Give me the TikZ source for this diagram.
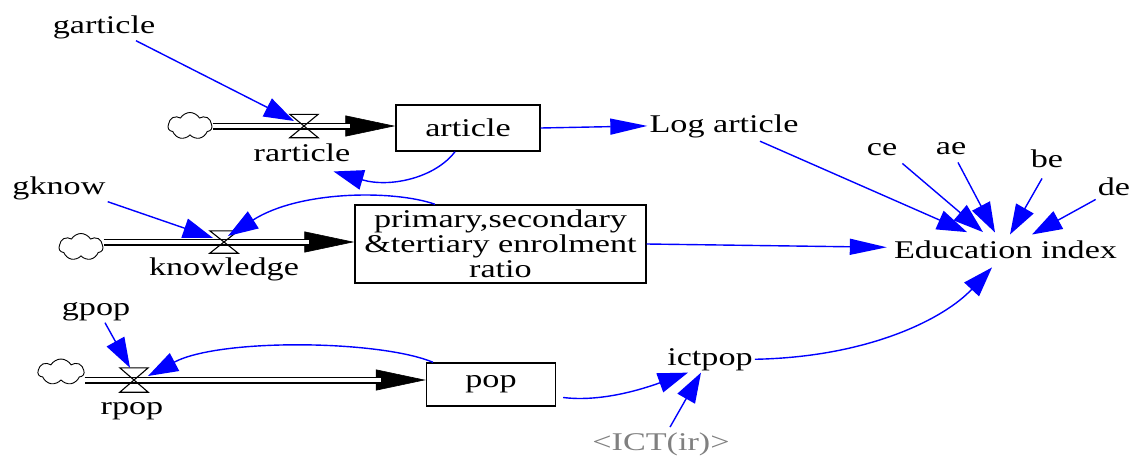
\documentclass[tikz,border=0pt]{standalone}
\usepackage{fontspec}
\setmainfont{Liberation Serif}[FakeStretch=1.34]
\usetikzlibrary{arrows.meta,shapes.symbols}
\begin{document}
\begin{tikzpicture}[x=1pt,y=-1pt,
  lbl/.style={font=\fontsize{25.5}{25}\selectfont, inner sep=2pt, anchor=base},
  stock/.style={draw, line width=1.4pt, inner sep=0pt, align=center,
    font=\fontsize{25.5}{25}\selectfont},
  valve/.style={minimum width=28pt, minimum height=23pt, inner sep=0pt},
  src/.style={cloud, cloud puffs=7, cloud puff arc=120, cloud ignores aspect,
    draw, line width=0.9pt, minimum width=44pt, minimum height=27pt, inner sep=0pt},
  pipe/.style={draw, double, double distance=4.4pt, line width=1.3pt},
  flowtip/.style={draw, line width=0.6pt, -{Triangle[length=50pt,width=21pt]}},
  link/.style={draw=blue, line width=1.4pt, -{Triangle[length=30pt,width=20pt]}},
  longlink/.style={draw=blue, line width=1.4pt, -{Triangle[length=37pt,width=16pt]}},
  valveshape/.style={line width=1.1pt},
]
\useasboundingbox (0,0) rectangle (1134,455);

% ---- stocks ----
\node[stock, minimum width=144pt, minimum height=46pt] (article) at (468,128) {article};
\node[stock, minimum width=291pt, minimum height=78pt] (primary) at (500.5,244)
  {primary,secondary\\\&tertiary enrolment\\ratio};
\node[stock, minimum width=129pt, minimum height=43pt] (pop) at (491,384.5) {pop};

% ---- sources ----
\node[src] (src1) at (190,126) {};
\node[src] (src2) at (81,247) {};
\node[src, minimum width=46pt, minimum height=26pt] (src3) at (61,372) {};

% ---- valves ----
\node[valve] (v1) at (304,126) {};
\node[valve, minimum height=22pt] (v2) at (224,242) {};
\node[valve, minimum height=24pt] (v3) at (134,380) {};

% ---- variables ----
\node[lbl] (garticle) at (104,33) {garticle};
\node[lbl] (gknow) at (59,194) {gknow};
\node[lbl] (gpop) at (96,315) {gpop};
\node[lbl] (rarticle) at (302,161) {rarticle};
\node[lbl] (knowledge) at (224,275) {knowledge};
\node[lbl] (rpop) at (132,414) {rpop};
\node[lbl] (logart) at (724,132) {Log article};
\node[lbl] (edu) at (1005.5,258) {Education index};
\node[lbl] (ce) at (882,155) {ce};
\node[lbl] (ae) at (951,154) {ae};
\node[lbl] (be) at (1047,167) {be};
\node[lbl] (de) at (1114,195) {de};
\node[lbl] (ictpop) at (710,365) {ictpop};
\node[lbl, text=gray] (ict) at (661,450) {<ICT(ir)>};

% ---- flows ----
\draw[flowtip] (v1) -- (article.west |- v1);
\draw[pipe, shorten >=45pt] (src1.east |- v1) -- (article.west |- v1);
\draw[flowtip] (v2) -- (primary.west |- v2);
\draw[pipe, shorten >=45pt] (src2.east |- v2) -- (primary.west |- v2);
\draw[flowtip] (v3) -- (pop.west |- v3);
\draw[pipe, shorten >=45pt] (src3.east |- v3) -- (pop.west |- v3);
\foreach \v in {v1,v2,v3}
  \draw[valveshape] (\v.north west) -- (\v.north east) -- (\v.south west)
    -- (\v.south east) -- cycle;

% ---- links ----
\draw[link] ([xshift=32pt]garticle.south) -- ([xshift=-10pt,yshift=5pt]v1.center);
\draw[link] (gknow.south east) -- ([xshift=-11pt,yshift=4pt]v2.center);
\draw[link] ([xshift=9pt]gpop.south) -- ([xshift=-4pt]v3.north);
\draw[link] ([xshift=-13pt]article.south) .. controls (435,178) and (390,188)
  .. ([xshift=-19pt,yshift=-8pt]rarticle.south east);
\draw[longlink] (article.east) -- (logart.west);
\draw[link] ([xshift=-65.5pt]primary.north) .. controls (395,190) and (300,190)
  .. ([xshift=4pt,yshift=6pt]v2.center);
\draw[link] ([xshift=-58pt]pop.north) .. controls (380,340) and (220,338)
  .. ([xshift=14pt,yshift=4pt]v3.center);
\draw[link] ([xshift=7pt,yshift=-13pt]pop.east) .. controls (600,402) and (640,390)
  .. ([xshift=-22pt]ictpop.south);
\draw[link] ([xshift=9pt,yshift=3pt]ict.north) -- ([xshift=-9pt]ictpop.south);
\draw[link] (ictpop.east) .. controls (870,357) and (945,318)
  .. ([xshift=-13.5pt,yshift=-7pt]edu.south);
\draw[longlink] (primary.east) -- ([xshift=-5pt,yshift=2pt]edu.west);
\draw[link] ([xshift=36pt,yshift=-1.5pt]logart.south) -- ([xshift=-38.5pt,yshift=6pt]edu.north);
\draw[link] ([xshift=3pt,yshift=-6pt]ce.south east) -- ([xshift=-22.5pt,yshift=6pt]edu.north);
\draw[link] ([xshift=7pt,yshift=-6pt]ae.south) -- ([xshift=-10.5pt,yshift=5.6pt]edu.north);
\draw[link] ([xshift=-5pt,yshift=-9pt]be.south) -- ([xshift=4.5pt,yshift=3.6pt]edu.north);
\draw[link] ([yshift=-2pt]de.south west) -- ([xshift=26.5pt,yshift=3.6pt]edu.north);
\end{tikzpicture}
\end{document}
